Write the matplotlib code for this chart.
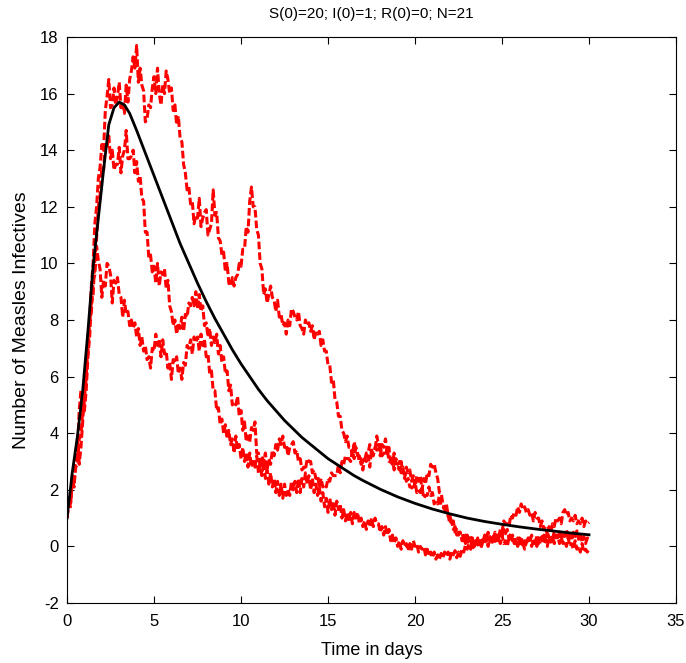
import numpy as np
import matplotlib
matplotlib.use('Agg')
import matplotlib.pyplot as plt

plt.rcParams['font.family'] = ['Liberation Sans', 'DejaVu Sans']
plt.rcParams['axes.unicode_minus'] = False

# three stochastic runs, one value every 0.1 day (one row = one day)
run_a = [1.0, 1.7, 1.5, 2.4, 2.1, 3.2, 3.8, 2.9, 3.5, 4.4,
         5.4, 5.9, 7.5, 7.9, 9.2, 10.0, 11.4, 12.0, 13.0, 13.4,
         14.2, 14.0, 15.4, 15.9, 16.5, 15.5, 15.6, 16.2, 15.6, 15.9,
         16.4, 15.5, 15.7, 15.3, 16.3, 15.7, 16.5, 16.8, 17.3, 16.9,
         17.7, 16.4, 16.9, 16.3, 16.1, 15.0, 15.1, 15.6, 15.5, 16.2,
         16.6, 16.0, 16.9, 16.0, 15.6, 16.3, 16.0, 16.8, 16.5, 16.0,
         16.2, 15.4, 15.6, 14.9, 15.2, 14.4, 14.3, 13.5, 13.2, 12.6,
         12.7, 12.1, 12.2, 11.4, 11.7, 11.6, 12.3, 11.3, 11.6, 11.8,
         11.9, 11.0, 11.2, 11.4, 12.6, 11.7, 11.8, 10.9, 10.8, 10.3,
         10.4, 9.7, 10.0, 9.3, 9.2, 9.5, 9.2, 9.5, 9.6, 10.0,
         9.9, 10.5, 10.5, 11.3, 11.1, 12.2, 12.7, 12.0, 12.0, 11.2,
         11.0, 10.0, 9.8, 8.9, 9.1, 8.6, 8.9, 9.2, 8.8, 8.7,
         8.3, 8.7, 8.1, 8.2, 7.8, 7.9, 7.5, 8.0, 7.8, 8.4,
         8.3, 8.1, 8.0, 8.3, 7.8, 7.7, 7.5, 8.0, 7.8, 7.9,
         7.6, 7.8, 7.3, 7.6, 7.5, 7.6, 7.1, 7.3, 6.9, 6.9,
         6.4, 6.4, 5.8, 5.9, 5.2, 5.1, 4.6, 4.6, 4.1, 4.0,
         3.7, 3.9, 3.5, 3.5, 3.2, 3.7, 3.4, 3.3, 3.0, 3.1,
         2.7, 3.1, 3.0, 3.2, 2.8, 3.4, 3.2, 3.5, 3.4, 3.6,
         3.2, 3.6, 3.5, 3.8, 3.3, 3.5, 2.9, 3.1, 2.7, 3.1,
         2.9, 3.0, 2.6, 2.8, 2.4, 2.8, 2.6, 2.7, 2.3, 2.5,
         2.1, 2.5, 2.3, 2.5, 2.0, 2.4, 2.2, 2.6, 2.5, 2.9,
         2.8, 2.9, 2.6, 2.4, 1.9, 1.9, 1.5, 1.4, 1.1, 1.1,
         0.8, 0.9, 0.6, 0.7, 0.4, 0.5, 0.5, 0.5, 0.2, 0.4,
         0.1, 0.4, 0.3, 0.3, 0.0, 0.2, 0.1, 0.2, -0.05, 0.2,
         0.1, 0.3, 0.0, 0.3, 0.2, 0.4, 0.1, 0.4, 0.3, 0.6,
         0.5, 0.9, 0.8, 0.8, 0.7, 1.1, 1.0, 1.2, 1.1, 1.4,
         1.2, 1.5, 1.3, 1.4, 1.2, 1.3, 1.1, 1.2, 0.9, 1.2,
         1.0, 1.0, 0.7, 0.9, 0.6, 0.7, 0.4, 0.7, 0.5, 0.8,
         0.7, 1.0, 0.9, 1.0, 0.8, 1.2, 1.3, 1.1, 1.2, 0.9,
         1.0, 0.9, 1.1, 0.8, 0.9, 0.8, 1.0, 0.7, 0.9, 0.8,
         0.85]

run_b = [1.0, 1.5, 1.4, 2.5, 2.6, 3.3, 3.3, 4.8, 5.5, 4.7,
         4.8, 5.5, 6.7, 7.4, 8.6, 8.9, 10.2, 10.9, 12.0, 12.4,
         13.4, 13.3, 14.2, 14.1, 14.5, 13.7, 14.0, 13.3, 13.5, 13.5,
         14.1, 13.2, 13.8, 14.0, 14.7, 13.7, 13.7, 13.8, 14.0, 13.2,
         13.6, 12.9, 13.1, 12.3, 12.2, 11.1, 11.1, 10.2, 10.3, 9.7,
         9.9, 9.3, 10.0, 9.2, 9.7, 9.6, 9.8, 9.1, 9.4, 8.5,
         8.3, 7.8, 8.0, 7.5, 7.9, 7.7, 8.1, 7.6, 8.2, 8.1,
         8.6, 8.5, 8.8, 8.5, 9.0, 8.4, 8.9, 8.3, 8.5, 7.8,
         7.9, 7.4, 7.7, 7.1, 7.4, 7.2, 7.5, 6.8, 7.1, 6.5,
         6.7, 6.1, 6.2, 5.5, 5.7, 5.0, 5.1, 5.0, 5.3, 4.6,
         4.8, 4.1, 4.4, 3.7, 3.9, 3.7, 4.2, 4.1, 4.4, 3.3,
         3.3, 2.8, 3.2, 3.0, 3.3, 2.7, 3.1, 2.9, 3.4, 3.2,
         3.6, 3.4, 3.8, 3.6, 3.9, 3.5, 3.6, 3.2, 3.5, 3.6,
         3.7, 3.3, 3.4, 3.0, 3.1, 2.7, 2.8, 2.7, 3.1, 3.0,
         3.0, 2.6, 2.7, 2.4, 2.5, 2.1, 2.4, 2.1, 2.2, 2.1,
         2.4, 2.3, 2.6, 2.5, 2.5, 2.5, 2.9, 2.6, 3.0, 2.9,
         3.2, 3.1, 3.1, 3.0, 3.4, 3.1, 3.5, 3.2, 3.2, 2.9,
         3.0, 3.0, 3.3, 3.3, 3.6, 3.3, 3.4, 3.4, 3.9, 3.6,
         3.6, 3.2, 3.3, 3.2, 3.5, 3.0, 3.0, 2.9, 3.3, 2.8,
         2.8, 2.7, 3.0, 2.6, 2.6, 2.3, 2.4, 2.1, 2.1, 2.0,
         2.3, 1.9, 2.0, 1.9, 2.1, 1.7, 1.8, 1.8, 2.1, 1.8,
         1.9, 1.5, 1.6, 1.5, 1.8, 1.4, 1.4, 1.3, 1.5, 1.1,
         1.1, 0.8, 0.9, 0.5, 0.6, 0.4, 0.5, 0.2, 0.3, 0.1,
         0.4, 0.1, 0.2, -0.1, 0.1, 0.0, 0.3, 0.1, 0.2, 0.1,
         0.4, 0.3, 0.5, 0.2, 0.4, 0.3, 0.5, 0.2, 0.3, 0.1,
         0.4, 0.1, 0.2, 0.0, 0.3, 0.2, 0.4, 0.1, 0.2, 0.0,
         0.3, 0.0, 0.1, -0.1, 0.2, 0.1, 0.3, 0.0, 0.2, 0.1,
         0.4, 0.1, 0.3, 0.2, 0.4, 0.3, 0.5, 0.3, 0.4, 0.3,
         0.5, 0.3, 0.4, 0.1, 0.3, 0.1, 0.2, 0.0, 0.3, 0.0,
         0.1, -0.1, 0.2, -0.1, 0.0, -0.2, 0.1, -0.2, -0.1, -0.2,
         -0.1]

run_c = [1.0, 1.6, 1.6, 2.2, 2.1, 2.8, 2.9, 3.8, 3.9, 4.8,
         5.1, 6.4, 6.8, 8.0, 8.3, 9.4, 9.6, 10.6, 10.1, 9.8,
         8.8, 9.4, 9.2, 10.0, 9.9, 9.6, 8.6, 9.4, 9.3, 9.5,
         8.9, 8.8, 8.1, 8.7, 8.2, 8.3, 7.8, 8.0, 7.7, 7.9,
         7.4, 7.7, 7.1, 7.4, 6.9, 7.1, 6.6, 6.7, 6.3, 7.0,
         6.9, 7.5, 7.1, 7.3, 6.7, 7.3, 6.8, 6.9, 6.3, 6.5,
         5.9, 6.6, 6.5, 6.7, 6.1, 6.3, 5.9, 6.5, 6.4, 7.1,
         7.0, 7.3, 6.8, 7.4, 7.2, 7.4, 6.9, 7.5, 7.1, 7.3,
         6.7, 6.8, 6.1, 6.2, 5.5, 5.5, 4.8, 4.9, 4.3, 4.5,
         4.0, 4.3, 3.8, 4.1, 3.6, 3.8, 3.3, 3.9, 3.4, 3.6,
         3.1, 3.5, 3.0, 3.3, 2.8, 3.3, 2.8, 3.0, 2.8, 3.2,
         2.6, 2.9, 2.5, 3.0, 2.4, 2.7, 2.2, 2.6, 2.1, 2.4,
         1.9, 2.3, 1.8, 2.2, 1.7, 2.2, 1.8, 2.0, 1.8, 2.3,
         2.0, 2.3, 1.9, 2.4, 1.9, 2.4, 2.1, 2.6, 2.2, 2.5,
         2.0, 2.4, 1.9, 2.2, 1.8, 2.1, 1.6, 1.9, 1.4, 1.7,
         1.2, 1.7, 1.3, 1.6, 1.1, 1.6, 1.3, 1.5, 1.0, 1.3,
         0.9, 1.2, 0.9, 1.2, 0.8, 1.2, 1.0, 1.2, 0.8, 1.0,
         0.7, 0.9, 0.6, 0.9, 0.7, 1.0, 0.7, 1.0, 0.8, 0.8,
         0.5, 0.7, 0.4, 0.7, 0.4, 0.6, 0.2, 0.4, 0.1, 0.3,
         0.0, 0.2, -0.1, 0.2, 0.0, 0.1, -0.15, 0.1, -0.1, 0.2,
         0.0, 0.1, -0.2, 0.0, -0.1, 0.0, -0.3, -0.1, -0.35, -0.2,
         -0.4, -0.2, -0.45, -0.3, -0.45, -0.25, -0.4, -0.2, -0.35, -0.2,
         -0.45, -0.2, -0.3, -0.15, -0.4, -0.2, -0.35, -0.1, -0.2, 0.05,
         -0.1, 0.1, -0.1, 0.15, 0.0, 0.2, 0.05, 0.25, 0.0, 0.25,
         0.1, 0.3, 0.15, 0.35, 0.1, 0.35, 0.2, 0.4, 0.25, 0.5,
         0.4, 0.6, 0.45, 0.6, 0.3, 0.45, 0.2, 0.35, 0.1, 0.3,
         0.2, 0.35, 0.0, 0.2, 0.05, 0.3, 0.15, 0.4, 0.1, 0.25,
         0.0, 0.3, 0.15, 0.35, 0.1, 0.25, 0.0, 0.3, 0.15, 0.35,
         0.1, 0.4, 0.3, 0.5, 0.2, 0.5, 0.35, 0.6, 0.3, 0.45,
         0.2, 0.5, 0.35, 0.55, 0.25, 0.45, 0.15, 0.35, 0.1, 0.3,
         0.25]

# deterministic solution
t_det = [0, 0.3, 0.6, 0.9, 1.2, 1.5, 1.8, 2.1, 2.4, 2.7, 3.0, 3.3, 3.6,
         4.0, 4.5, 5.0, 5.5, 6.0, 6.5, 7.0, 7.5, 8.0, 8.5, 9.0, 9.5, 10,
         10.5, 11, 11.5, 12, 12.5, 13, 13.5, 14, 14.5, 15, 15.5, 16, 16.5,
         17, 18, 19, 20, 21, 22, 23, 24, 25, 26, 27, 28, 29, 30]
i_det = [1.0, 2.6, 3.9, 5.5, 7.6, 9.9, 11.6, 13.3, 14.9, 15.5, 15.7,
         15.6, 15.3, 14.7, 13.9, 13.1, 12.3, 11.5, 10.7, 10.0, 9.3, 8.65,
         8.05, 7.5, 6.95, 6.45, 6.0, 5.55, 5.15, 4.8, 4.45, 4.15, 3.85,
         3.6, 3.35, 3.1, 2.9, 2.7, 2.5, 2.33, 2.02, 1.75, 1.52, 1.32,
         1.15, 1.0, 0.88, 0.78, 0.69, 0.61, 0.54, 0.47, 0.41]

t_run = np.arange(len(run_a)) * 0.1

fig = plt.figure(figsize=(6.86, 6.63), dpi=100)
ax = fig.add_axes([0.0977, 0.0905, 0.8878, 0.8537])

for run in [run_a, run_b, run_c]:
    ax.plot(t_run, run, color='red', lw=2.2, linestyle=(0, (2.5, 1.0)))
ax.plot(t_det, i_det, '-', color='black', lw=2)

ax.set_xlim(0, 35)
ax.set_ylim(-2, 18)
ax.set_xticks(range(0, 36, 5))
ax.set_yticks(range(-2, 19, 2))
ax.tick_params(direction='in', top=True, right=True, labelsize=12, length=5)
ax.tick_params(axis='x', pad=8)
ax.tick_params(axis='y', pad=6)
ax.set_xlabel('Time in days', fontsize=13, labelpad=9)
ax.set_ylabel('Number of Measles Infectives', fontsize=14, labelpad=7)
ax.set_title('S(0)=20; I(0)=1; R(0)=0; N=21', fontsize=11, pad=14)

fig.savefig('out.png', dpi=100)
